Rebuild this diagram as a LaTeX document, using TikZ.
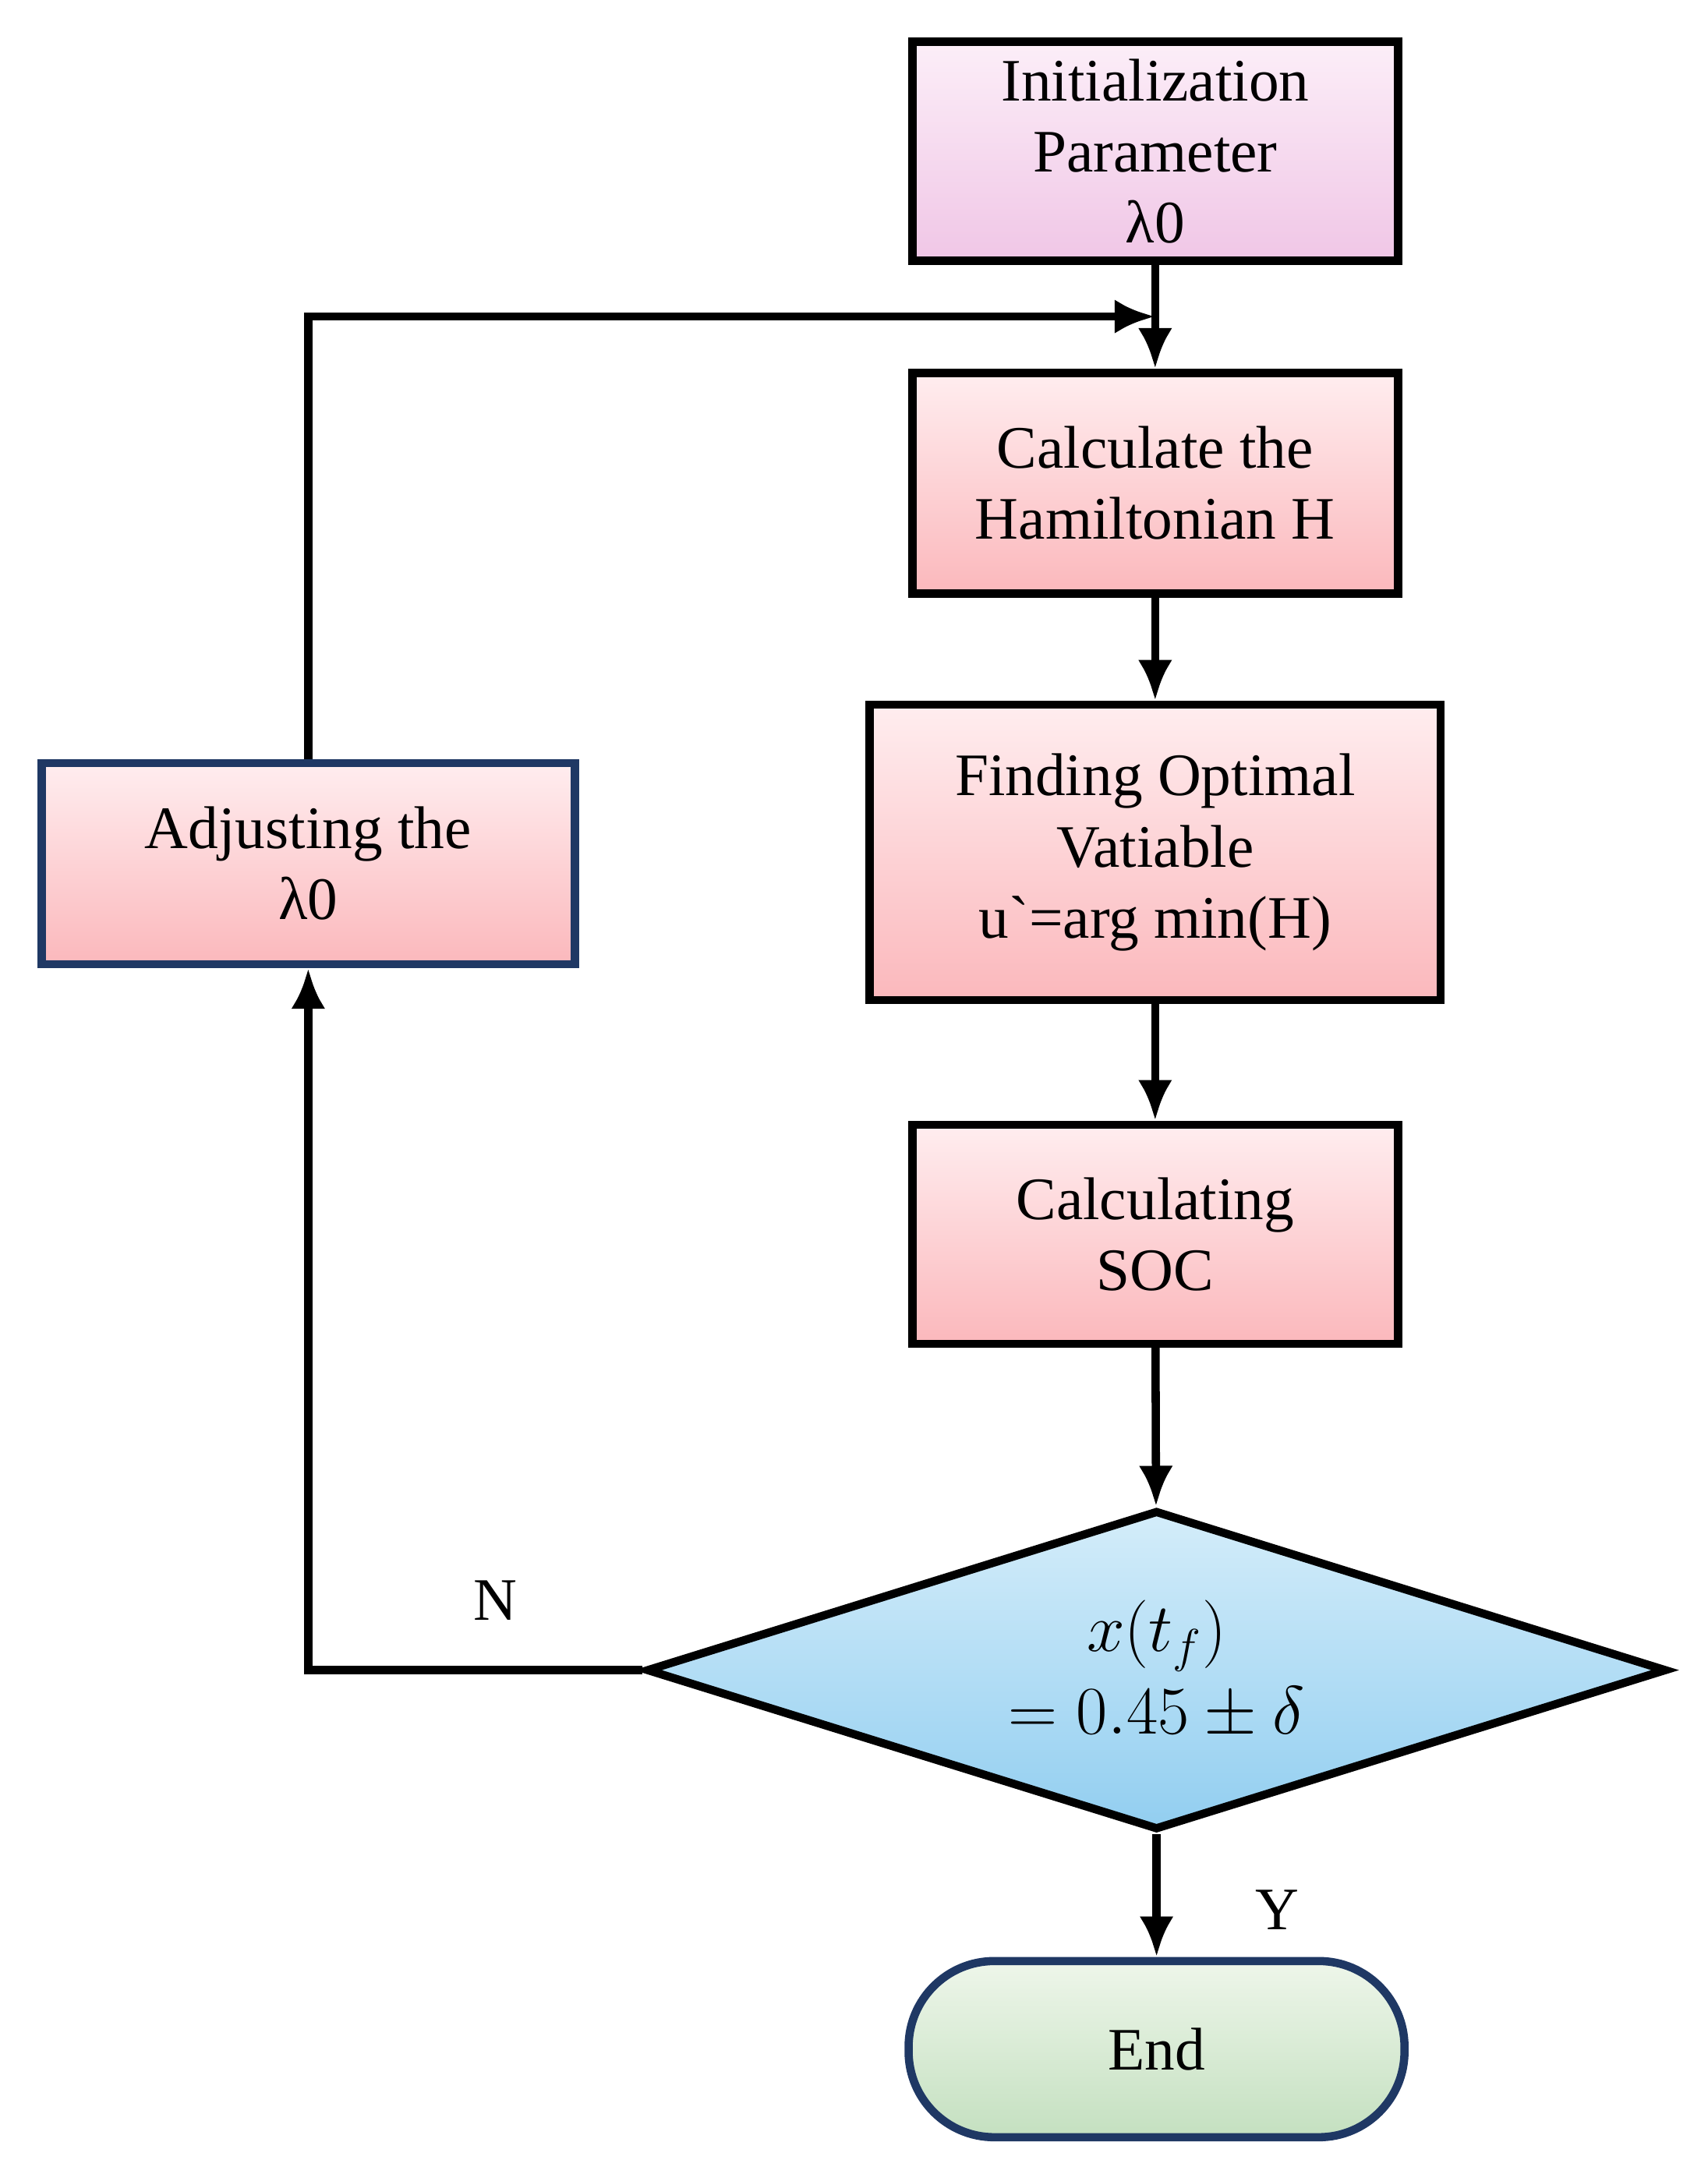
\documentclass[tikz,border=0pt]{standalone}
\usepackage{fontspec}
\setmainfont{Liberation Serif}
\usetikzlibrary{shapes.geometric,arrows.meta}
\definecolor{boxline}{HTML}{1F3864}
\definecolor{pinkTop}{HTML}{FFEDEF}
\definecolor{pinkBot}{HTML}{FBB8BC}
\definecolor{initTop}{HTML}{FCEEF8}
\definecolor{initBot}{HTML}{F0C6E6}
\definecolor{blueTop}{HTML}{D4EDFA}
\definecolor{blueBot}{HTML}{92CEF0}
\definecolor{greenTop}{HTML}{EEF6EA}
\definecolor{greenBot}{HTML}{C4E0C0}
\tikzset{
  flow/.style={-{Latex[length=0.52cm,width=0.44cm]}, line width=3pt},
  step/.style 2 args={draw=black, line width=3pt, align=center, top color=#1, bottom color=#2,
    font=\fontsize{22}{26}\selectfont, inner sep=2pt},
  pinkstep/.style={step={pinkTop}{pinkBot}}
}
\begin{document}
\begin{tikzpicture}[x=0.01781cm,y=-0.01781cm]
  \useasboundingbox (0,0) rectangle (1230,1571);
  % Main column
  \node[step={initTop}{initBot}, minimum width=6.23cm, minimum height=2.81cm] (init) at (832,109) {Initialization\\Parameter\\λ0};
  \node[pinkstep, minimum width=6.23cm, minimum height=2.83cm] (ham) at (832,348) {Calculate the\\Hamiltonian H};
  \node[pinkstep, minimum width=7.32cm, minimum height=3.79cm] (opt) at (832,614) {Finding Optimal\\Vatiable\\u\textasciigrave=arg min(H)};
  \node[pinkstep, minimum width=6.23cm, minimum height=2.81cm] (soc) at (832,889) {Calculating\\SOC};
  \node[step={blueTop}{blueBot}, shape=diamond, aspect=3.2, inner sep=0pt, minimum width=13.09cm, minimum height=4.1cm, font=\fontsize{25}{30}\selectfont] (check) at (833,1203) {$x(t_f)$\\$=0.45\pm\delta$};
  \node[step={greenTop}{greenBot}, rounded corners=1.1cm, draw=boxline, minimum width=6.36cm, minimum height=2.26cm] (end) at (833,1476) {End};
  % Loop back
  \node[pinkstep, draw=boxline, minimum width=6.84cm, minimum height=2.58cm] (adj) at (222,622) {Adjusting the\\λ0};
  \coordinate (join) at (832,228);

  \draw[flow] (init) -- (ham);
  \draw[flow] (ham) -- (opt);
  \draw[flow] (opt) -- (soc);
  \draw[flow] (soc) -- (check);
  \draw[flow] (check) -- (end) node[pos=0.62, right=1.1cm, font=\fontsize{22}{26}\selectfont] (ylab) {Y};
  \draw[flow] (check.west) -| (adj.south);
  \draw[flow] (adj.north) |- (join);
  \node[font=\fontsize{22}{26}\selectfont] (nlab) at (357,1153) {N};
\end{tikzpicture}
\end{document}
